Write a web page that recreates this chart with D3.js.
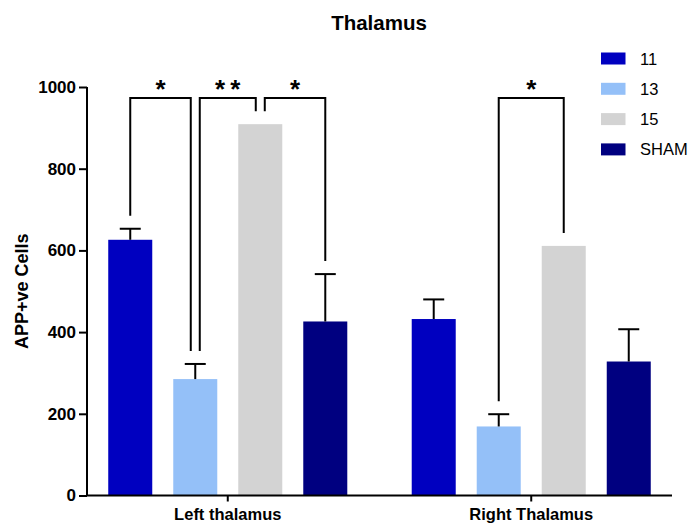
<!DOCTYPE html>
<html>
<head>
<meta charset="utf-8">
<script src="https://cdn.jsdelivr.net/npm/d3@7/dist/d3.min.js"></script>
<style>
  body { margin: 0; background: #fff; }
  svg { display: block; font-family: "Liberation Sans", Arial, Helvetica, sans-serif; }
</style>
</head>
<body>
<svg id="chart" width="692" height="524"></svg>
<script>
// ---- data ----
const groups = ["Left thalamus", "Right Thalamus"];
const series = ["11", "13", "15", "SHAM"];
const values11 = [626, 432];
const err11 = [27, 48];
const values13 = [285, 169];
const err13 = [37, 30];
const values15 = [909, 611];
const err15 = [0, 0];
const valuesSHAM = [426, 328];
const errSHAM = [116, 79];
const seriesColors = ["#0000C0", "#94C0F8", "#D3D3D3", "#000080"];
const yTicks = [0, 200, 400, 600, 800, 1000];
// significance brackets: group index, series a, series b, label
const bracketGroup = [0, 0, 0, 1];
const bracketA = [0, 1, 2, 1];
const bracketB = [1, 2, 3, 2];
const bracketLabel = ["*", "**", "*", "*"];
const bracketLevel = 973;

const allValues = [values11, values13, values15, valuesSHAM];
const allErr = [err11, err13, err15, errSHAM];

// ---- layout ----
const svg = d3.select("#chart");
const mLeft = 87, mRight = 672, mTop = 87, mBottom = 495.5;

const y = d3.scaleLinear().domain([0, 1000]).range([mBottom, mTop]);
const x0 = d3.scaleBand().domain(groups).range([mLeft, mRight])
  .paddingInner(0.2123).paddingOuter(0.07);
const x1 = d3.scaleBand().domain(series).range([0, x0.bandwidth()])
  .paddingInner(0.323).paddingOuter(0);

const bars = [];
groups.forEach((g, gi) => {
  series.forEach((s, si) => {
    bars.push({ g, gi, s, si, v: allValues[si][gi], e: allErr[si][gi] });
  });
});
const barCx = (gi, si) => x0(groups[gi]) + x1(series[si]) + x1.bandwidth() / 2;

// bars
svg.append("g").selectAll("rect").data(bars).join("rect")
  .attr("x", d => x0(d.g) + x1(d.s))
  .attr("y", d => y(d.v))
  .attr("width", x1.bandwidth())
  .attr("height", d => y(0) - y(d.v))
  .attr("fill", d => seriesColors[d.si]);

// error bars (upper only)
const eb = svg.append("g").attr("stroke", "#000").attr("stroke-width", 2);
bars.filter(d => d.e > 0).forEach(d => {
  const cx = barCx(d.gi, d.si);
  eb.append("line").attr("x1", cx).attr("x2", cx)
    .attr("y1", y(d.v)).attr("y2", y(d.v + d.e));
  eb.append("line").attr("x1", cx - 10.5).attr("x2", cx + 10.5)
    .attr("y1", y(d.v + d.e)).attr("y2", y(d.v + d.e));
});

// y axis
const yAxis = svg.append("g").attr("transform", `translate(${mLeft},0)`)
  .call(d3.axisLeft(y).tickValues(yTicks).tickSize(8).tickPadding(3).tickFormat(d3.format("d")));
yAxis.selectAll("path,line").attr("stroke", "#000").attr("stroke-width", 2);
yAxis.select(".domain").attr("d", `M0,${mBottom}V${mTop}`);
yAxis.selectAll("text").attr("font-size", 17).attr("font-weight", "bold")
  .attr("fill", "#000").attr("font-family", "Liberation Sans, Arial, sans-serif");

// x axis
const xAxis = svg.append("g").attr("transform", `translate(0,${mBottom})`)
  .call(d3.axisBottom(x0).tickSize(6).tickPadding(7).tickSizeOuter(0));
xAxis.selectAll("path,line").attr("stroke", "#000").attr("stroke-width", 2);
xAxis.select(".domain").attr("d", `M${mLeft - 1},0H${mRight}`);
xAxis.selectAll("text").attr("font-size", 16.5).attr("font-weight", "bold")
  .attr("fill", "#000").attr("font-family", "Liberation Sans, Arial, sans-serif");

// y label
svg.append("text")
  .attr("transform", `translate(28,${(mTop + mBottom) / 2}) rotate(-90)`)
  .attr("text-anchor", "middle")
  .attr("font-size", 18).attr("font-weight", "bold")
  .text("APP+ve Cells");

// title
svg.append("text").attr("x", 379).attr("y", 30)
  .attr("text-anchor", "middle")
  .attr("font-size", 20.5).attr("font-weight", "bold")
  .text("Thalamus");

// significance brackets
const shared = {};
bracketA.forEach((a, i) => {
  const ka = bracketGroup[i] + "_" + a, kb = bracketGroup[i] + "_" + bracketB[i];
  shared[ka] = (shared[ka] || 0) + 1;
  shared[kb] = (shared[kb] || 0) + 1;
});
const br = svg.append("g");
bracketA.forEach((a, i) => {
  const gi = bracketGroup[i], b = bracketB[i];
  const off = k => (shared[gi + "_" + k] > 1 ? 4.5 : 0);
  const xa = barCx(gi, a) + off(a);
  const xb = barCx(gi, b) - off(b);
  const topA = y(allValues[a][gi] + allErr[a][gi]) - 13;
  const topB = y(allValues[b][gi] + allErr[b][gi]) - 13;
  const yl = y(bracketLevel);
  br.append("path")
    .attr("d", `M${xa},${topA}V${yl}H${xb}V${topB}`)
    .attr("fill", "none").attr("stroke", "#000").attr("stroke-width", 2);
  br.append("text")
    .attr("x", (xa + xb) / 2).attr("y", yl)
    .attr("text-anchor", "middle")
    .attr("font-size", 26).attr("font-weight", "bold")
    .text(bracketLabel[i].split("").join("\u2009"));
});

// legend
const lg = svg.append("g");
series.forEach((s, i) => {
  const cy = 58.5 + i * 30.3;
  lg.append("rect").attr("x", 601).attr("y", cy - 6).attr("width", 24.5).attr("height", 12)
    .attr("fill", seriesColors[i]);
  lg.append("text").attr("x", 640).attr("y", cy + 6)
    .attr("font-size", 16.5).attr("fill", "#000")
    .text(s);
});
</script>
</body>
</html>
